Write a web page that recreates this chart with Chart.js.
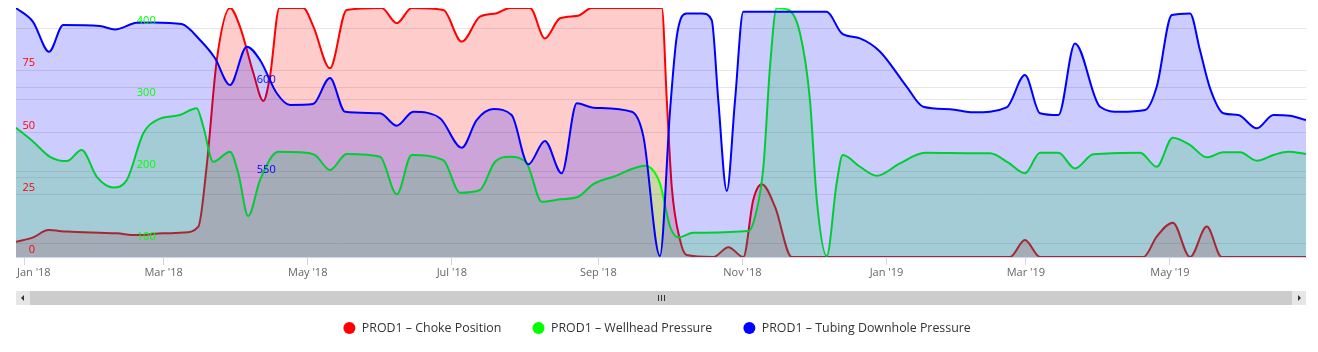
<!DOCTYPE html>
<html>
<head>
<meta charset="utf-8">
<script src="https://cdn.jsdelivr.net/npm/chart.js@4.4.1/dist/chart.umd.min.js"></script>
<style>
html, body { margin: 0; padding: 0; background: #fff; }
</style>
</head>
<body>
<canvas id="myChart" width="1318" height="352"></canvas>
<script>
// x values are days counted from 1 Jan 2018
const monthTicks = [0, 59, 120, 181, 243, 304, 365, 424, 485];
const monthLabels = ["Jan '18", "Mar '18", "May '18", "Jul '18", "Sep '18", "Nov '18", "Jan '19", "Mar '19", "May '19"];

const chokeTicks = [0, 25, 50, 75];
const wellheadTicks = [100, 200, 300, 400];
const tubingTicks = [550, 600];

const chokeDays = [-3.5, 3.8, 10.2, 18.0, 39.1, 47.6, 58.8, 67.3, 73.7, 77.2, 81.5, 87.1, 91.3, 97.0, 101.2, 104.0, 108.0, 118.1, 122.4, 129.4, 136.5, 151.3, 157.7, 164.0, 177.4, 185.2, 192.9, 200.0, 205.6, 214.1, 220.4, 226.8, 234.5, 240.2, 269.9, 272.0, 274.1, 277.6, 280.4, 291.7, 298.1, 304.4, 308.6, 312.2, 317.8, 324.9, 417.3, 423.6, 430.0, 473.8, 479.4, 486.2, 493.5, 500.6, 506.9, 542.6];
const chokeValues = [6.1, 7.9, 10.8, 10.2, 9.5, 8.8, 9.5, 9.8, 12.2, 36.3, 79.1, 100, 92.5, 73.8, 62.7, 72.4, 100, 100, 92.5, 75.8, 99.2, 100, 93.9, 100, 99.2, 86.5, 96.5, 97.9, 100, 100, 87.8, 95.9, 96.9, 100, 100, 63.1, 28.2, 6.8, 0.8, 0, 3.9, 0, 22.9, 29.2, 20.2, 0, 0, 6.8, 0, 0, 8.2, 13.8, 0, 12.2, 0, 0];

const wellheadDays = [-3.5, 3.8, 10.9, 18.0, 24.3, 30.7, 37.7, 43.4, 50.4, 56.1, 65.9, 73.0, 75.8, 80.0, 87.1, 90.6, 94.8, 99.8, 107.5, 116.7, 123.1, 129.4, 136.5, 150.6, 157.7, 164.0, 177.4, 184.5, 192.9, 199.3, 205.6, 212.7, 219.1, 226.8, 234.5, 240.9, 249.4, 262.8, 269.1, 273.4, 276.9, 283.2, 306.5, 309.4, 312.9, 315.7, 318.5, 322.8, 328.4, 332.6, 335.5, 339.7, 343.9, 346.5, 353.8, 360.9, 370.7, 381.3, 403.2, 408.8, 416.6, 423.6, 430.0, 437.8, 444.8, 452.6, 472.4, 479.4, 486.2, 493.5, 500.6, 507.6, 514.7, 521.8, 528.8, 535.1, 542.6];
const wellheadValues = [261.3, 241.8, 220.8, 214.8, 230.2, 192.9, 178.1, 188.3, 253.5, 272.0, 279.0, 288.4, 262.7, 213.9, 227.8, 197.7, 138.1, 188.3, 227.8, 227.0, 223.2, 202.3, 224.6, 220.8, 168.4, 223.2, 216.2, 170.6, 174.4, 213.9, 220.8, 211.6, 158.0, 161.4, 165.0, 182.7, 192.9, 208.3, 183.7, 123.2, 108.4, 114.8, 117.2, 137.1, 206.9, 346.4, 427.9, 426.5, 393.0, 300, 160.4, 82.3, 183.7, 223.2, 206.9, 194.3, 211.6, 226.4, 225.6, 225.6, 212.5, 197.7, 226.4, 226.4, 204.6, 224.2, 226.4, 206.9, 247.3, 237.2, 220.0, 227.0, 227.0, 215.3, 223.2, 227.8, 224.6];

const tubingDays = [-3.5, 3.7, 10.5, 16.5, 32.0, 38.4, 47.6, 54.5, 66.6, 74.4, 80.7, 87.1, 94.2, 99.8, 106.9, 112.5, 122.2, 129.4, 135.8, 150.6, 157.7, 164.7, 176.0, 185.2, 191.5, 198.6, 206.3, 213.4, 220.4, 227.5, 233.9, 240.9, 257.2, 262.1, 269.1, 273.4, 276.2, 280.4, 286.8, 291.0, 293.8, 297.4, 300.9, 304.4, 339.7, 346.1, 353.8, 362.3, 373.6, 380.6, 391.9, 401.8, 415.9, 423.6, 430.0, 437.8, 444.8, 455.4, 463.9, 474.5, 479.4, 485.8, 493.5, 497.7, 502.0, 507.6, 513.9, 521.8, 528.8, 535.8, 542.6];
const tubingValues = [644.1, 636.4, 619.8, 634.6, 634.1, 632.2, 635.9, 636.1, 635.2, 626.3, 616.3, 601.3, 622.6, 615.2, 596.7, 590.2, 590.7, 605.2, 586.4, 585.6, 578.7, 586.4, 582.8, 566.4, 581.8, 587.9, 584.6, 557.2, 570.2, 552.2, 591.1, 588.7, 586.4, 572.6, 506.3, 587.4, 628.1, 641.1, 641.1, 637.4, 592.9, 542.4, 592.9, 642.0, 642.0, 630.0, 627.2, 619.8, 600.3, 589.2, 587.8, 586.1, 588.9, 606.8, 585.6, 584.6, 624.4, 589.2, 586.4, 587.4, 600.3, 640.2, 641.1, 620.7, 599.4, 585.6, 584.6, 577.2, 584.6, 584.2, 581.8];

function pairs(xs, ys) {
    return xs.map((x, i) => ({ x: x, y: ys[i] }));
}

Chart.defaults.font.family = "'Open Sans', sans-serif";

// y axes sit inside the plot, take no room, labels drawn over the series
function innerAxis(min, max, tickValues, color, pad) {
    return {
        position: 'left',
        min: min,
        max: max,
        afterBuildTicks: s => { s.ticks = tickValues.map(v => ({ value: v })); },
        afterFit: s => { s.width = 0; s.paddingTop = 0; s.paddingBottom = 0; s.paddingLeft = 0; s.paddingRight = 0; },
        border: { display: false },
        grid: { color: '#e6e6e6', drawTicks: false },
        ticks: { mirror: true, crossAlign: 'far', padding: pad, labelOffset: -7, color: color, font: { size: 11 }, z: 1 }
    };
}

const scrollbar = {
    id: 'scrollbar',
    afterLayout(chart) {
        // legend sits a little left of centre
        chart.legend.left -= 4;
        chart.legend.right -= 4;
    },
    beforeDraw(chart) {
        // keep the first month label inside the plot
        const items = chart.scales.x.getLabelItems(chart.chartArea);
        if (items.length) {
            items[0].options.textAlign = 'left';
            items[0].options.translation[0] = chart.chartArea.left + 1;
        }
    },
    afterDraw(chart) {
        const ctx = chart.ctx;
        const area = chart.chartArea;
        const top = Math.round(chart.scales.x.bottom);
        const h = 14;
        ctx.save();
        ctx.fillStyle = '#cccccc';
        ctx.fillRect(area.left, top, area.right - area.left, h);
        ctx.fillStyle = '#e6e6e6';
        ctx.fillRect(area.left, top, 14, h);
        ctx.fillRect(area.right - 14, top, 14, h);
        ctx.fillStyle = '#333333';
        ctx.beginPath();
        ctx.moveTo(area.left + 5, top + 7);
        ctx.lineTo(area.left + 8, top + 4);
        ctx.lineTo(area.left + 8, top + 10);
        ctx.fill();
        ctx.beginPath();
        ctx.moveTo(area.right - 5, top + 7);
        ctx.lineTo(area.right - 8, top + 4);
        ctx.lineTo(area.right - 8, top + 10);
        ctx.fill();
        const mid = Math.round((area.left + area.right) / 2);
        ctx.strokeStyle = '#333333';
        ctx.lineWidth = 1;
        for (const dx of [-3, 0, 3]) {
            ctx.beginPath();
            ctx.moveTo(mid + dx + 0.5, top + 4);
            ctx.lineTo(mid + dx + 0.5, top + 10);
            ctx.stroke();
        }
        ctx.restore();
    }
};

const ctx = document.getElementById('myChart').getContext('2d');
const myChart = new Chart(ctx, {
    type: 'line',
    data: {
        datasets: [
            {
                label: 'PROD1 – Choke Position',
                data: pairs(chokeDays, chokeValues),
                yAxisID: 'yChoke',
                borderColor: '#ff0000',
                backgroundColor: 'rgba(255, 0, 0, 0.2)',
                order: 2
            },
            {
                label: 'PROD1 – Wellhead Pressure',
                data: pairs(wellheadDays, wellheadValues),
                yAxisID: 'yWellhead',
                borderColor: '#00ff00',
                backgroundColor: 'rgba(0, 255, 0, 0.2)',
                order: 1
            },
            {
                label: 'PROD1 – Tubing Downhole Pressure',
                data: pairs(tubingDays, tubingValues),
                yAxisID: 'yTubing',
                borderColor: '#0000ff',
                backgroundColor: 'rgba(0, 0, 255, 0.2)',
                order: 0
            }
        ]
    },
    options: {
        responsive: false,
        animation: false,
        layout: { padding: { top: 8, left: 16, right: 12, bottom: 7.8 } },
        elements: {
            line: { borderWidth: 2, tension: 0.4, cubicInterpolationMode: 'monotone', fill: 'start' },
            point: { radius: 0, hoverRadius: 0 }
        },
        scales: {
            x: {
                type: 'linear',
                min: -3.5,
                max: 542.6,
                afterBuildTicks: s => { s.ticks = monthTicks.map(v => ({ value: v })); },
                afterFit: s => { s.height = 33.8; s.paddingLeft = 0; s.paddingRight = 0; },
                border: { color: '#ccd6eb' },
                grid: { color: '#ccd6eb', drawOnChartArea: false, tickLength: 8 },
                ticks: {
                    autoSkip: false,
                    maxRotation: 0,
                    padding: 1,
                    color: '#666666',
                    font: { size: 11 },
                    callback: v => monthLabels[monthTicks.indexOf(v)]
                }
            },
            yChoke: innerAxis(0, 100, chokeTicks, '#ff0000', 6.4),
            yWellhead: innerAxis(81, 428.3, wellheadTicks, '#00ff00', 120.8),
            yTubing: innerAxis(505.7, 644.1, tubingTicks, '#0000ff', 240.8)
        },
        plugins: {
            tooltip: { enabled: false },
            legend: {
                position: 'bottom',
                labels: {
                    usePointStyle: true,
                    pointStyle: 'circle',
                    boxHeight: 8.5,
                    padding: 31,
                    color: '#333333',
                    font: { size: 12.4 },
                    sort: (a, b) => a.datasetIndex - b.datasetIndex,
                    generateLabels: chart => {
                        const items = Chart.defaults.plugins.legend.labels.generateLabels(chart);
                        items.forEach(it => { it.fillStyle = it.strokeStyle; it.lineWidth = 0; });
                        return items;
                    }
                }
            }
        }
    },
    plugins: [scrollbar]
});
</script>
</body>
</html>
